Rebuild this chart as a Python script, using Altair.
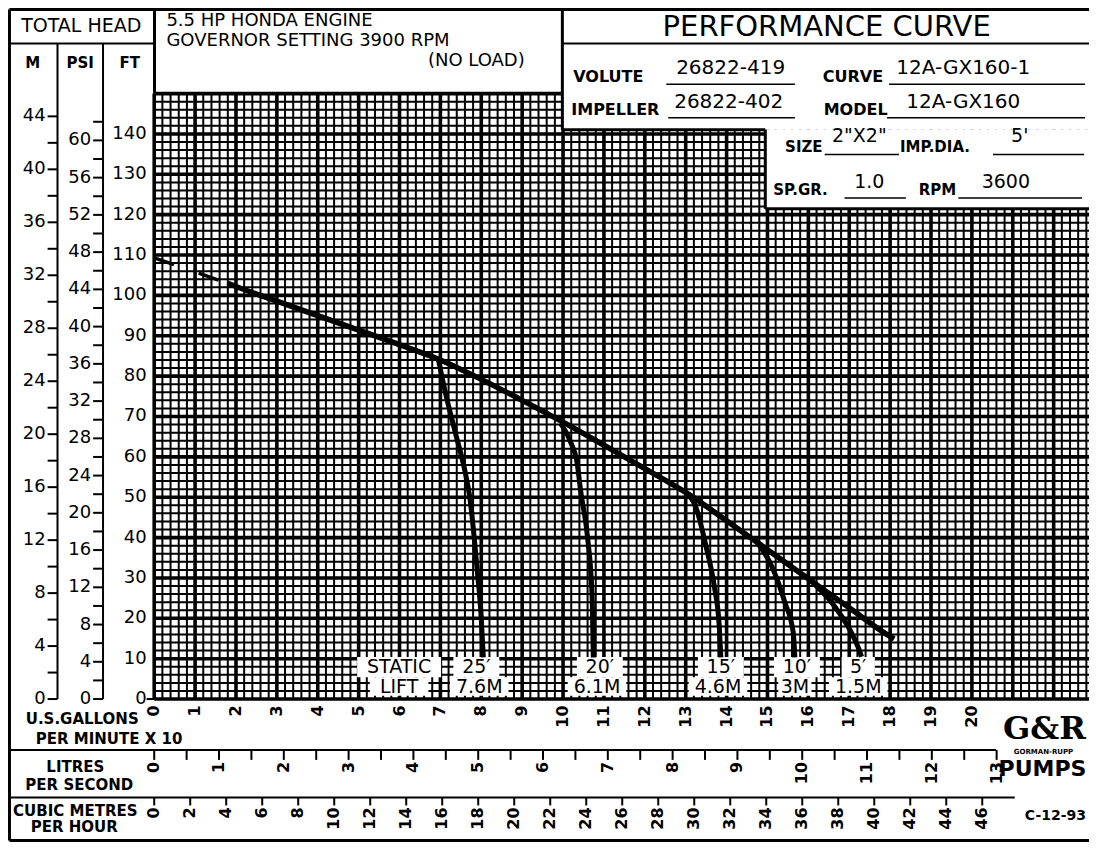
import altair as alt
import numpy as np
import pandas as pd

# ---------------- values ----------------
# capacity in U.S. gallons per minute x 10, total head in feet
HEAD_X = [0, 1, 1.8, 2, 3, 4, 5, 6, 7, 8, 9, 10, 11, 12, 13, 14, 15, 16, 17, 18, 18.1]
HEAD_Y = [109.3, 105.8, 103.0, 102.2, 98.6, 95.0, 91.4, 87.8, 84.0, 79.2, 74.0,
          68.6, 62.9, 57.1, 51.2, 44.2, 37.0, 29.8, 22.6, 15.5, 14.9]
DASHED_UP_TO = 1.8

LIFT25_X = [6.95, 7.12, 7.36, 7.6, 7.72, 7.9, 8.0, 8.05]
LIFT25_Y = [84.2, 76.0, 66.2, 56.5, 49.9, 32.0, 20.0, 10.3]
LIFT20_X = [9.94, 10.18, 10.35, 10.43, 10.6, 10.71, 10.74]
LIFT20_Y = [68.3, 63.8, 58.1, 51.6, 40.0, 25.5, 10.3]
LIFT15_X = [13.01, 13.25, 13.5, 13.7, 13.82, 13.86]
LIFT15_Y = [51.2, 47.5, 37.7, 27.9, 18.1, 10.3]
LIFT10_X = [14.71, 15.11, 15.43, 15.63, 15.67]
LIFT10_Y = [39.3, 32.8, 23.8, 16.5, 10.3]
LIFT5_X = [16.0, 16.64, 17.05, 17.25, 17.3]
LIFT5_Y = [29.8, 23.0, 16.5, 12.0, 10.5]

LIFT_TOP_TEXT = ["STATIC", "25\u2032", "20\u2032", "15\u2032", "10\u2032", "5\u2032"]
LIFT_BOTTOM_TEXT = ["LIFT", "7.6M", "6.1M", "4.6M", "3M", "1.5M"]
LIFT_TOP_AT = [5.99, 7.88, 10.9, 13.86, 15.72, 17.22]
LIFT_BOTTOM_AT = [5.99, 7.95, 10.83, 13.79, 15.67, 17.22]

GPM_TICKS = list(range(0, 21))
LPS_TICKS = [v / 2 for v in range(0, 27)]
LPS_LABELS = list(range(0, 14))
M3H_TICKS = list(range(0, 47, 2))
M_TICKS = list(range(0, 45, 2))
M_LABELS = list(range(0, 45, 4))
PSI_TICKS = list(range(0, 63, 2))
PSI_LABELS = list(range(0, 61, 4))
FT_LABELS = list(range(0, 141, 10))

FT_PER_M = 3.2808
FT_PER_PSI = 2.3067
UNITS_PER_LPS = 1.5850     # (gal/min)/10 per litre/second
UNITS_PER_M3H = 0.44029    # (gal/min)/10 per cubic metre/hour

# ---------------- layout ----------------
W, H = 1081, 834
SX = W / 1092
SY = H / 843


def px(v):
    return round((v - 5) * SX, 2)


def py(v):
    return round((v - 5) * SY, 2)


XMAX = (1097 - 152.7) / 41.3
xs = alt.Scale(domain=[0, XMAX], range=[px(152.7), px(1097)], nice=False, zero=False)
ys = alt.Scale(domain=[0, 150], range=[py(703.5), py(91.5)], nice=False, zero=False)
FONT = "DejaVu Sans"


def rules_px(rows, color="black"):
    df = pd.DataFrame(rows, columns=["x", "y", "x2", "y2", "w"])
    for c in ["x", "x2"]:
        df[c] = df[c].map(px)
    for c in ["y", "y2"]:
        df[c] = df[c].map(py)
    return alt.Chart(df).mark_rule(color=color).encode(
        x=alt.X("x:Q", scale=None), x2="x2:Q",
        y=alt.Y("y:Q", scale=None), y2="y2:Q",
        strokeWidth=alt.StrokeWidth("w:Q", scale=None, legend=None))


def rects_px(rows, color="white"):
    df = pd.DataFrame(rows, columns=["x", "y", "x2", "y2"])
    for c in ["x", "x2"]:
        df[c] = df[c].map(px)
    for c in ["y", "y2"]:
        df[c] = df[c].map(py)
    return alt.Chart(df).mark_rect(color=color).encode(
        x=alt.X("x:Q", scale=None), x2="x2:Q",
        y=alt.Y("y:Q", scale=None), y2="y2:Q")


def texts(rows, weight="normal", align="center", angle=0, font=FONT,
          data_x=False, data_y=False):
    df = pd.DataFrame(rows, columns=["t", "x", "y", "s"])
    if not data_x:
        df["x"] = df["x"].map(px)
    if not data_y:
        df["y"] = df["y"].map(py)
    return alt.Chart(df).mark_text(
        font=font, fontWeight=weight, align=align, baseline="middle",
        angle=angle, color="black").encode(
        x=alt.X("x:Q", scale=xs if data_x else None, axis=None),
        y=alt.Y("y:Q", scale=ys if data_y else None, axis=None),
        text="t:N",
        size=alt.Size("s:Q", scale=None, legend=None))


layers = []

# ---------------- graph paper grid ----------------
minor_x = [round(i * 0.2, 1) for i in range(0, 115) if i % 5 != 0]
major_x = list(range(0, 23))
minor_y = [v for v in range(0, 151, 2) if v % 10 != 0]
major_y = list(range(0, 151, 10))


def vgrid(vals, w):
    df = pd.DataFrame({"x": vals, "y0": 0, "y1": 150})
    return alt.Chart(df).mark_rule(color="black", strokeWidth=w).encode(
        x=alt.X("x:Q", scale=xs, axis=None),
        y=alt.Y("y0:Q", scale=ys, axis=None), y2="y1:Q")


def hgrid(vals, w):
    df = pd.DataFrame({"y": vals, "x0": 0, "x1": XMAX})
    return alt.Chart(df).mark_rule(color="black", strokeWidth=w).encode(
        y=alt.Y("y:Q", scale=ys, axis=None),
        x=alt.X("x0:Q", scale=xs, axis=None), x2="x1:Q")


layers += [vgrid(minor_x, 2.0), hgrid(minor_y, 2.0), vgrid(major_x, 3.6), hgrid(major_y, 3.6)]

# boxes that cover the paper at the top right
layers.append(rects_px([(565, 5, 1097, 128), (770, 128, 1097, 208)]))

# ---------------- frame lines ----------------
frame = [
    (6.5, 6.5, 1097, 6.5, 3), (6.5, 6.5, 6.5, 846.5, 3), (6.5, 846.5, 1097, 846.5, 3),
    (5, 41, 153, 41, 2), (153, 5, 153, 91.5, 3),
    (55, 41, 55, 703.5, 2), (101, 41, 101, 703.5, 2),
    (565, 5, 565, 128, 3), (565, 41, 1097, 41, 2),
    (565, 128, 770, 128, 3), (770, 128, 770, 208, 3), (770, 208, 1097, 208, 3),
    (5, 755, 1003, 755, 2), (5, 803, 1022, 803, 2),
    # underlines of the data fields
    (670, 82, 800, 82, 1.5), (895, 82, 1093, 82, 1.5),
    (672, 116, 800, 116, 1.5), (893, 116, 1093, 116, 1.5),
    (830, 153, 905, 153, 1.5), (1000, 153, 1092, 153, 1.5),
    (850, 197, 912, 197, 1.5), (965, 197, 1090, 197, 1.5),
]
layers.append(rules_px(frame))

# ---------------- static lift label backgrounds ----------------
bg_rows = []
for t, x in zip(LIFT_TOP_TEXT, LIFT_TOP_AT):
    hw = (len(t) * 6.4 + 4) / 41.3
    bg_rows.append((x - hw, x + hw, 5.4, 10.4))
for t, x in zip(LIFT_BOTTOM_TEXT, LIFT_BOTTOM_AT):
    hw = (len(t) * 6.4 + 4) / 41.3
    bg_rows.append((x - hw, x + hw, 0.8, 5.4))
bg = pd.DataFrame(bg_rows, columns=["x", "x2", "y", "y2"])
layers.append(alt.Chart(bg).mark_rect(color="white").encode(
    x=alt.X("x:Q", scale=xs, axis=None), x2="x2:Q",
    y=alt.Y("y:Q", scale=ys, axis=None), y2="y2:Q"))

# ---------------- curves ----------------
head = pd.DataFrame({"x": HEAD_X, "y": HEAD_Y})
dashed = head[head["x"] <= DASHED_UP_TO]
solid = head[head["x"] >= DASHED_UP_TO]
layers.append(alt.Chart(dashed).mark_line(color="black", strokeWidth=3.5, strokeDash=[21, 26]).encode(
    x=alt.X("x:Q", scale=xs, axis=None), y=alt.Y("y:Q", scale=ys, axis=None)))
layers.append(alt.Chart(solid).mark_line(color="black", strokeWidth=5.5, interpolate="monotone").encode(
    x=alt.X("x:Q", scale=xs, axis=None), y=alt.Y("y:Q", scale=ys, axis=None)))

lift_frames = []
for name, lx, ly in [("25", LIFT25_X, LIFT25_Y), ("20", LIFT20_X, LIFT20_Y),
                     ("15", LIFT15_X, LIFT15_Y), ("10", LIFT10_X, LIFT10_Y),
                     ("5", LIFT5_X, LIFT5_Y)]:
    lift_frames.append(pd.DataFrame({"x": lx, "y": ly, "lift": name, "i": range(len(lx))}))
lifts = pd.concat(lift_frames, ignore_index=True)
layers.append(alt.Chart(lifts).mark_line(color="black", strokeWidth=5, interpolate="monotone").encode(
    x=alt.X("x:Q", scale=xs, axis=None), y=alt.Y("y:Q", scale=ys, axis=None),
    detail="lift:N", order="i:Q"))

# lift labels
lab_rows = [(t, x, 8.0, 19) for t, x in zip(LIFT_TOP_TEXT, LIFT_TOP_AT)]
lab_rows += [(t, x, 2.9, 19) for t, x in zip(LIFT_BOTTOM_TEXT, LIFT_BOTTOM_AT)]
layers.append(texts(lab_rows, data_x=True, data_y=True))

# ---------------- left scales: M, PSI, FT ----------------
def yticks(vals, factor, x0, x1, w=2):
    df = pd.DataFrame({"y": [v * factor for v in vals], "x": px(x0), "x2": px(x1)})
    return alt.Chart(df).mark_rule(color="black", strokeWidth=w).encode(
        y=alt.Y("y:Q", scale=ys, axis=None),
        x=alt.X("x:Q", scale=None), x2="x2:Q")


layers.append(yticks(M_TICKS, FT_PER_M, 45, 55))
layers.append(yticks(PSI_TICKS, FT_PER_PSI, 91, 101))
layers.append(yticks([0], 1, 145, 153))
layers.append(texts([(str(v), 43, v * FT_PER_M, 18) for v in M_LABELS], align="right", data_y=True))
layers.append(texts([(str(v), 89, v * FT_PER_PSI, 18) for v in PSI_LABELS], align="right", data_y=True))
layers.append(texts([(str(v), 145, v, 18) for v in FT_LABELS], align="right", data_y=True))

# ---------------- bottom scales ----------------
def xticks(vals, factor, y0, y1, w=2):
    df = pd.DataFrame({"x": [v * factor for v in vals], "y": py(y0), "y2": py(y1)})
    return alt.Chart(df).mark_rule(color="black", strokeWidth=w).encode(
        x=alt.X("x:Q", scale=xs, axis=None),
        y=alt.Y("y:Q", scale=None), y2="y2:Q")


layers.append(xticks(LPS_TICKS, UNITS_PER_LPS, 755, 765))
layers.append(xticks(M3H_TICKS, UNITS_PER_M3H, 803, 811))
layers.append(texts([(str(v), v, 710, 16) for v in GPM_TICKS], weight="bold",
                    align="right", angle=270, data_x=True))
layers.append(texts([(str(v), v * UNITS_PER_LPS, 767, 16) for v in LPS_LABELS], weight="bold",
                    align="right", angle=270, data_x=True))
layers.append(texts([(str(v), v * UNITS_PER_M3H, 813, 16) for v in M3H_TICKS], weight="bold",
                    align="right", angle=270, data_x=True))

# ---------------- header and captions ----------------
layers.append(texts([
    ("TOTAL HEAD", 79, 23, 19),
    ("PERFORMANCE  CURVE", 832, 24, 29),
    ('2"X2"', 865, 134, 19), ("5'", 1027, 134, 19),
    ("1.0", 875, 181, 19), ("3600", 1013, 181, 19),
    ("26822-419", 735, 66, 20), ("12A-GX160-1", 970, 66, 20),
    ("26822-402", 733, 100, 20), ("12A-GX160", 970, 100, 20),
]))
layers.append(texts([
    ("5.5 HP  HONDA  ENGINE", 165, 18.5, 18),
    ("GOVERNOR  SETTING  3900  RPM", 165, 38.5, 18),
], align="left"))
layers.append(texts([("(NO  LOAD)", 527, 58.5, 18)], align="right"))
layers.append(texts([
    ("M", 30, 61, 15), ("PSI", 78, 61, 15), ("FT", 128, 61, 15),
    ("U.S.GALLONS", 80, 724, 15), ("LITRES", 73, 772, 15), ("PER SECOND", 77, 790, 15),
    ("CUBIC METRES", 73, 817, 15), ("PER HOUR", 72, 833, 15),
    ("GORMAN-RUPP", 1051, 757, 7),
    ("PUMPS", 1050, 774, 22),
], weight="bold"))
layers.append(texts([("C-12-93", 1094, 822, 14)], weight="bold", align="right"))
layers.append(texts([
    ("PER MINUTE  X 10", 33, 744, 15),
    ("VOLUTE", 576, 75, 16), ("CURVE", 828, 75, 16),
    ("IMPELLER", 574, 108, 16), ("MODEL", 829, 108, 16),
    ("SIZE", 790, 146, 15), ("IMP.DIA.", 906, 146, 15),
    ("SP.GR.", 778, 189, 15), ("RPM", 925, 189, 15),
], weight="bold", align="left"))
layers.append(texts([("G&R", 1052, 734, 32)], weight="bold", font="DejaVu Serif"))

chart = alt.layer(*layers).properties(
    width=W, height=H, padding=0,
    autosize=alt.AutoSizeParams(type="none"),
).configure_view(stroke=None).configure(background="white")

chart.save("out.html", embed_options={"renderer": "svg", "actions": False})
